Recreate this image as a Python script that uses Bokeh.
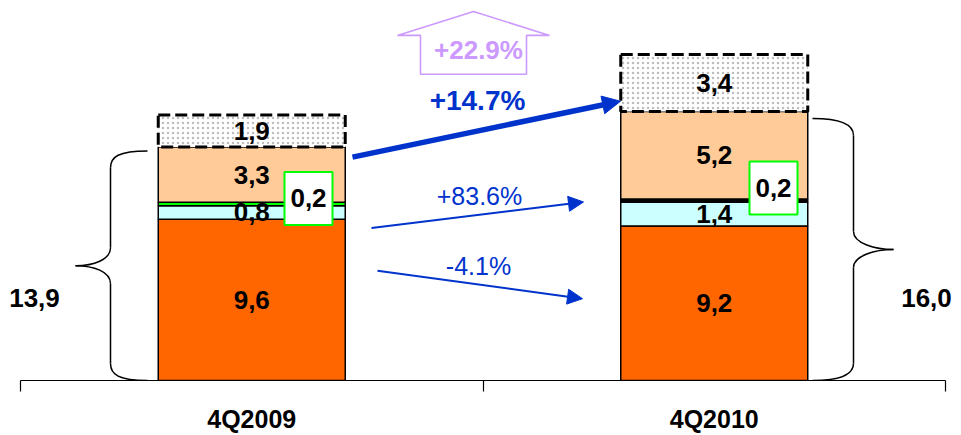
from bokeh.plotting import figure
from bokeh.models import (Range1d, LinearAxis, FixedTicker, CustomJSTickFormatter,
                          Arrow, NormalHead)
from bokeh.core.properties import value
from bokeh.embed import file_html
from bokeh.resources import INLINE

# ---- data -----------------------------------------------------------------
categories = ["4Q2009", "4Q2010"]
core = [9.6, 9.2]          # bottom segment
second = [0.8, 1.4]        # light cyan segment
thin = [0.2, 0.2]          # thin band, value shown in a box
upper = [3.3, 5.2]         # peach segment
extra = [1.9, 3.4]         # dotted segment with dashed outline
change_extra = "+22.9%"
change_total = "+14.7%"
change_second = "+83.6%"
change_core = "-4.1%"

# ---- geometry helpers -----------------------------------------------------
W, H = 961, 435
AXIS_Y = 381          # pixel row of the category axis
LEFT = 20             # pixel column of the first category boundary
PX_X = 462.5          # pixels per category
PX_Y = 16.85          # pixels per value unit
BAR_W = 187 / PX_X

def dx(px):
    return (px - LEFT) / PX_X

def dy(py):
    return (AXIS_Y - py) / PX_Y

def fmt(v):
    return f"{v:.1f}".replace(".", ",")

FONT = value("Liberation Sans")
BLUE = "#0033CC"
PURPLE = "#CC99FF"

p = figure(width=W, height=H, output_backend="svg", toolbar_location=None,
           x_range=Range1d(-LEFT / PX_X, (W - LEFT) / PX_X),
           y_range=Range1d(0, AXIS_Y / PX_Y),
           x_axis_type=None, y_axis_type=None,
           min_border_left=0, min_border_right=0, min_border_top=0,
           min_border_bottom=H - AXIS_Y)
p.outline_line_color = None
p.xgrid.visible = False
p.ygrid.visible = False
p.background_fill_color = "white"

xs = [i + 0.5 for i in range(len(categories))]

# ---- category axis with ticks on the boundaries ------------------------------
axis = LinearAxis(
    ticker=FixedTicker(ticks=xs, minor_ticks=list(range(len(categories) + 1))),
    formatter=CustomJSTickFormatter(args=dict(labels=categories),
                                    code="return labels[Math.floor(tick)]"),
    bounds=(0, len(categories)))
axis.axis_line_color = "black"
axis.axis_line_width = 1.2
axis.major_tick_out = 0
axis.major_tick_in = 0
axis.minor_tick_out = 11
axis.minor_tick_in = 0
axis.minor_tick_line_color = "black"
axis.minor_tick_line_width = 1.2
axis.major_label_standoff = 13
axis.major_label_text_font = "Liberation Sans"
axis.major_label_text_font_style = "bold"
axis.major_label_text_font_size = "25px"
axis.major_label_text_color = "black"
p.add_layout(axis, "below")

# ---- stacked bars ---------------------------------------------------------
layers = [
    (core, ["#FF6600", "#FF6600"]),
    (second, ["#CCFFFF", "#CCFFFF"]),
    (thin, ["#00FF00", "#000000"]),
    (upper, ["#FFCC99", "#FFCC99"]),
]
bottoms = [0.0] * len(categories)
mids = []
for vals, colors in layers:
    tops = [b + v for b, v in zip(bottoms, vals)]
    p.vbar(x=xs, bottom=bottoms, top=tops, width=BAR_W, fill_color=colors,
           line_color="black", line_width=1.5)
    mids.append([(b + t) / 2 for b, t in zip(bottoms, tops)])
    bottoms = tops
totals = list(bottoms)

extra_tops = [b + v for b, v in zip(totals, extra)]
p.vbar(x=xs, bottom=totals, top=extra_tops, width=BAR_W, fill_color="white",
       hatch_pattern="dot", hatch_color="#bdbdbd", hatch_scale=5, hatch_weight=1,
       line_color="black", line_width=3, line_dash="12 5")
extra_mids = [(b + t) / 2 for b, t in zip(totals, extra_tops)]

text_kw = dict(text_font=FONT, text_font_style="bold", text_font_size="26px",
               text_align="center", text_baseline="middle", text_color="black")

# value labels inside the segments
for idx, vals in [(0, core), (1, second), (3, upper)]:
    p.text(x=xs, y=mids[idx], text=[fmt(v) for v in vals], **text_kw)
p.text(x=xs, y=extra_mids, text=[fmt(v) for v in extra], **text_kw)

# boxed labels for the thin band
box_px = [(308, 198.5), (773, 188)]
bx = [dx(px) for px, _ in box_px]
by = [dy(py) for _, py in box_px]
p.rect(x=bx, y=by, width=48 / PX_X, height=53 / PX_Y, fill_color="white",
       line_color="#00FF00", line_width=2)
p.text(x=bx, y=by, text=[fmt(v) for v in thin], **text_kw)

# ---- braces with totals ------------------------------------------------------
def brace(x_end, x_stem, x_tip, y_top, y_bot):
    """Curly brace drawn in pixel coordinates; x_tip gives the pointing side."""
    s = 1 if x_stem > x_end else -1
    y_mid = (y_top + y_bot) / 2
    r = 17
    curves = [
        ((x_end, y_top), (x_end + s * 29, y_top), (x_stem, y_top + 6), (x_stem, y_top + r)),
        ((x_stem, y_mid - 18), (x_stem, y_mid - 6), (x_tip - s * 18, y_mid), (x_tip, y_mid)),
        ((x_tip, y_mid), (x_tip - s * 18, y_mid), (x_stem, y_mid + 6), (x_stem, y_mid + 18)),
        ((x_stem, y_bot - r), (x_stem, y_bot - 6), (x_end + s * 29, y_bot), (x_end, y_bot)),
    ]
    p.bezier(x0=[dx(c[0][0]) for c in curves], y0=[dy(c[0][1]) for c in curves],
             cx0=[dx(c[1][0]) for c in curves], cy0=[dy(c[1][1]) for c in curves],
             cx1=[dx(c[2][0]) for c in curves], cy1=[dy(c[2][1]) for c in curves],
             x1=[dx(c[3][0]) for c in curves], y1=[dy(c[3][1]) for c in curves],
             line_color="black", line_width=1.5)
    p.segment(x0=[dx(x_stem)] * 2, y0=[dy(y_top + r), dy(y_mid + 18)],
              x1=[dx(x_stem)] * 2, y1=[dy(y_mid - 18), dy(y_bot - r)],
              line_color="black", line_width=1.5)

def row(v):
    return AXIS_Y - v * PX_Y

brace(147, 110, 75, row(totals[0]) + 4, AXIS_Y)
brace(812, 853, 893, row(totals[1]) + 7, AXIS_Y)
p.text(x=[dx(34), dx(926)], y=[dy(298), dy(298)],
       text=[fmt(t) for t in totals], **text_kw)

# ---- change arrows --------------------------------------------------------
def arrow(x0, y0, x1, y1, lw, size):
    p.add_layout(Arrow(x_start=dx(x0), y_start=dy(y0), x_end=dx(x1), y_end=dy(y1),
                       line_color=BLUE, line_width=lw,
                       end=NormalHead(size=size, fill_color=BLUE, line_color=BLUE,
                                      line_width=1)))

arrow(352, 157, 620, 101, 5.5, 18)
arrow(371, 228, 583, 202, 2, 15)
arrow(377, 271, 582, 299, 2, 15)

p.text(x=[dx(477)], y=[dy(100)], text=[change_total], text_color=BLUE,
       text_font=FONT, text_font_style="bold", text_font_size="28px",
       text_align="center", text_baseline="middle")
p.text(x=[dx(479), dx(478)], y=[dy(196), dy(266)], text=[change_second, change_core],
       text_color=BLUE, text_font=FONT, text_font_style="normal",
       text_font_size="25px", text_align="center", text_baseline="middle")

# outlined up-arrow holding the growth of the dotted segment
house = [(420, 74), (420, 35), (397, 35), (473, 11), (549, 35), (526, 35), (526, 74)]
p.patch(x=[dx(a) for a, _ in house], y=[dy(b) for _, b in house],
        fill_color=None, line_color=PURPLE, line_width=1.6)
p.text(x=[dx(478)], y=[dy(50)], text=[change_extra], text_color=PURPLE,
       text_font=FONT, text_font_style="bold", text_font_size="26px",
       text_align="center", text_baseline="middle")

open("out.html", "w").write(file_html(p, INLINE))
